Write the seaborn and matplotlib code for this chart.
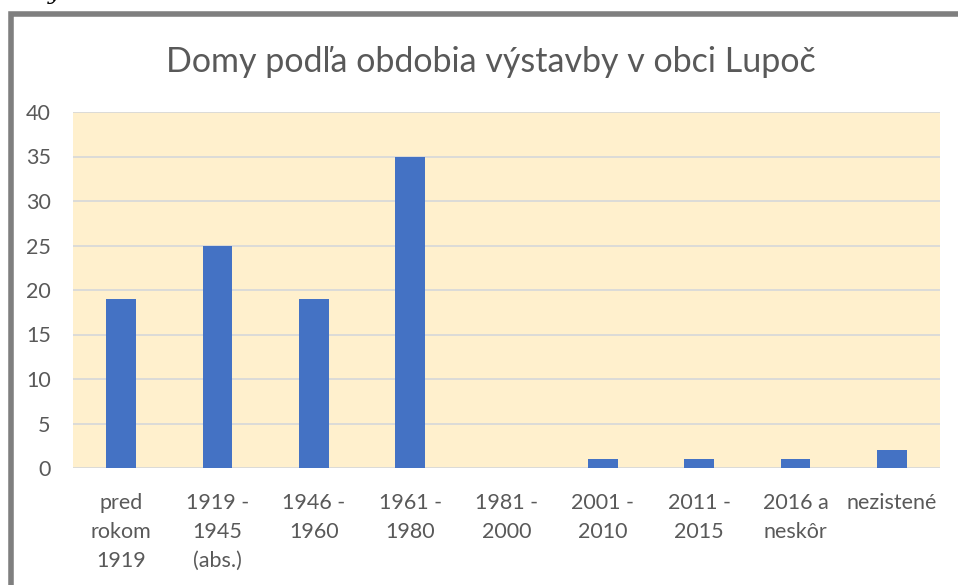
import matplotlib
matplotlib.use("Agg")
import matplotlib.pyplot as plt
import seaborn as sns
import pandas as pd
from matplotlib.patches import Rectangle

# data
obdobia = ["pred\nrokom\n1919", "1919 -\n1945\n(abs.)", "1946 -\n1960", "1961 -\n1980",
           "1981 -\n2000", "2001 -\n2010", "2011 -\n2015", "2016 a\nneskôr", "nezistené"]
domy = [19, 25, 19, 35, 0, 1, 1, 1, 2]

df = pd.DataFrame({"obdobie": obdobia, "domy": domy})

sns.set_theme(style="white")
plt.rcParams["font.family"] = ["Lato", "DejaVu Sans"]

fig = plt.figure(figsize=(9.58, 5.85), dpi=100)
ax = fig.add_axes([73 / 958, 1 - 468 / 585, (940 - 73) / 958, (468 - 112) / 585])
ax.set_facecolor("#FFF0CD")

sns.barplot(data=df, x="obdobie", y="domy", color="#4472C4", width=0.31,
            saturation=1, linewidth=0, ax=ax, zorder=3)

ax.set_ylim(0, 40)
ax.set_yticks(range(0, 41, 5))
ax.set_xlim(-0.5, len(obdobia) - 0.5)
ax.grid(axis="y", color="#D9D9D9", linewidth=1.3, zorder=0)
ax.set_axisbelow(True)
for s in ax.spines.values():
    s.set_visible(False)
ax.tick_params(axis="both", length=0, labelsize=15.5, labelcolor="#595959")
ax.tick_params(axis="x", pad=18)
ax.tick_params(axis="y", pad=16)
for lbl in ax.get_xticklabels():
    lbl.set_linespacing(1.55)
ax.set_xlabel("")
ax.set_ylabel("")

fig.text(0.512, 1 - 62 / 585, "Domy podľa obdobia výstavby v obci Lupoč",
         ha="center", va="center", fontsize=24.5, color="#595959")

# gray frame around the chart (cut off at right and bottom)
fig.patches.append(Rectangle((10.5 / 958, -0.1), 1.0, 1 - 13.5 / 585 + 0.1,
                             transform=fig.transFigure, fill=False,
                             edgecolor="#7F7F7F", linewidth=4, zorder=10))

fig.text(0.057, 1.012, "y", ha="center", va="center", fontsize=16,
         family="DejaVu Serif", style="italic", color="black")

fig.savefig("out.png", dpi=100)
